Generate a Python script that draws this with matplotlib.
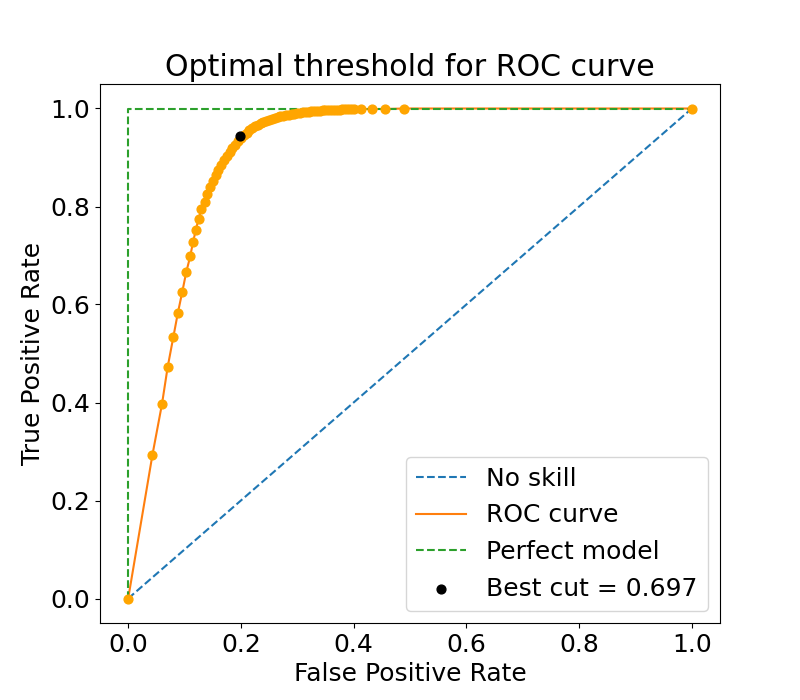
import matplotlib
matplotlib.use("Agg")
import matplotlib.pyplot as plt

fpr = [0.0, 0.043, 0.060, 0.070, 0.080, 0.088, 0.096, 0.103, 0.110, 0.115,
       0.120, 0.125, 0.130, 0.136, 0.140, 0.145, 0.150, 0.155, 0.160, 0.165,
       0.170, 0.175, 0.180, 0.185, 0.190, 0.195, 0.200, 0.205, 0.210, 0.215,
       0.220, 0.225, 0.230, 0.235, 0.240, 0.245, 0.250, 0.255, 0.260, 0.265,
       0.270, 0.275, 0.280, 0.285, 0.290, 0.295, 0.300, 0.305, 0.310, 0.315,
       0.320, 0.325, 0.330, 0.335, 0.340, 0.345, 0.350, 0.355, 0.360, 0.365,
       0.370, 0.375, 0.380, 0.385, 0.390, 0.395, 0.400, 0.413, 0.432, 0.455,
       0.490, 1.0]
tpr = [0.0, 0.293, 0.397, 0.472, 0.533, 0.582, 0.626, 0.666, 0.698, 0.727,
       0.752, 0.775, 0.794, 0.810, 0.825, 0.840, 0.852, 0.864, 0.875, 0.885,
       0.894, 0.903, 0.911, 0.919, 0.926, 0.933, 0.940, 0.946, 0.951, 0.956,
       0.960, 0.964, 0.967, 0.970, 0.973, 0.975, 0.977, 0.979, 0.981, 0.982,
       0.984, 0.985, 0.986, 0.987, 0.988, 0.989, 0.990, 0.991, 0.992, 0.992,
       0.993, 0.994, 0.994, 0.995, 0.995, 0.996, 0.996, 0.996, 0.997, 0.997,
       0.997, 0.997, 0.998, 0.998, 0.998, 0.998, 0.998, 0.999, 0.999, 0.999,
       1.0, 1.0]
best_fpr, best_tpr = 0.199, 0.943
best_cut = 0.697

plt.rcParams["font.size"] = 18
fig, ax = plt.subplots(figsize=(8, 7), dpi=100)

ax.plot([0, 1], [0, 1], linestyle="--", color="C0", label="No skill")
ax.plot(fpr, tpr, color="C1", label="ROC curve")
ax.scatter(fpr, tpr, color="orange", s=40, zorder=3)
ax.plot([0, 0, 1], [0, 1, 1], linestyle="--", color="C2", label="Perfect model")
ax.scatter([best_fpr], [best_tpr], color="black", s=40, zorder=4,
           label=f"Best cut = {best_cut}")

ax.set_xlabel("False Positive Rate")
ax.set_ylabel("True Positive Rate")
ax.set_title("Optimal threshold for ROC curve")
ax.legend(loc="lower right")
fig.subplots_adjust(left=0.125, right=0.9, top=0.88, bottom=0.11)
fig.savefig("out.png")
